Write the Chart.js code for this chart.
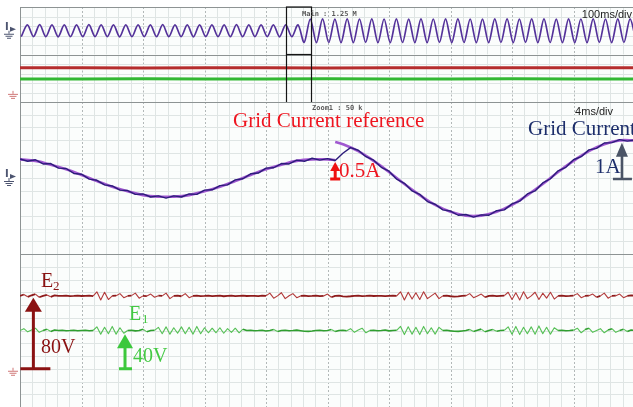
<!DOCTYPE html>
<html>
<head>
<meta charset="utf-8">
<script src="https://cdn.jsdelivr.net/npm/chart.js@4.4.0/dist/chart.umd.min.js"></script>
<style>
  html, body { margin: 0; padding: 0; background: #ffffff; overflow: hidden; }
  #wrap { position: relative; width: 640px; height: 407px; }
</style>
</head>
<body>
<div id="wrap"><canvas id="scope" width="640" height="407"></canvas></div>
<script>
// ==============================================================================
// 1. DATA
// ==============================================================================

// Main view, 100 ms/div: grid current peaks/troughs every half cycle (10 ms)
const mainStartMs = 2;
const mainStepMs = 10;
const mainCurrent = [
  -0.5, 0.5, -0.49, 0.51, -0.5, 0.5, -0.51, 0.49, -0.5, 0.5,
  -0.5, 0.51, -0.49, 0.5, -0.5, 0.49, -0.51, 0.5, -0.5, 0.5,
  -0.49, 0.5, -0.5, 0.51, -0.5, 0.5, -0.5, 0.49, -0.51, 0.5,
  -0.5, 0.5, -0.49, 0.5, -0.5, 0.51, -0.5, 0.5, -0.5, 0.49,
  -0.5, 0.5, -0.51, 0.5, -0.5, 0.5,
  -0.98, 0.99, -1, 1, -0.99, 0.98, -1, 1, -1, 0.99,
  -0.98, 1, -1, 0.99, -1, 1, -0.99, 0.98, -1, 1,
  -1, 0.99, -0.98, 1, -1, 1, -0.99, 0.99, -1, 0.98,
  -1, 1, -0.99, 1, -1, 0.99, -0.98, 1, -1, 1,
  -0.99, 0.98, -1, 1, -1, 0.99, -1, 1, -0.98, 0.99,
  -1, 1, -0.99, 1, -1
];

// Main view DC-link voltages (V), one reading per division
const mainVoltTimes = [0, 100, 200, 300, 400, 500, 600, 700, 800, 900, 1000];
const mainE2 = [80, 80.5, 79.8, 80.2, 80, 79.7, 80.3, 80, 80.2, 79.9, 80];
const mainE1 = [46, 45.8, 46.2, 46, 45.9, 46.1, 46, 45.8, 46.2, 46, 46];

// Zoom window position inside the main record (ms)
const zoomWindowMs = [432.5, 472.5];

// Zoom view, 4 ms/div: current reference before and after the step (A)
const refBeforeTimes = [0, 1, 2, 3, 4, 5, 6, 7, 8, 9, 10, 11, 12, 13, 14, 15, 16, 17, 18, 19, 20, 20.5];
const refBefore = [0.49, 0.45, 0.35, 0.23, 0.08, -0.08, -0.23, -0.35, -0.45, -0.49, -0.49,
  -0.45, -0.35, -0.23, -0.08, 0.08, 0.23, 0.35, 0.45, 0.49, 0.49, 0.47];
const refAfterTimes = [20.5, 21, 22, 23, 24, 25, 26, 27, 28, 29, 30, 31, 32, 33, 34, 35, 36, 37, 38, 39, 40];
const refAfter = [0.95, 0.89, 0.71, 0.45, 0.16, -0.16, -0.45, -0.71, -0.89, -0.99, -0.99,
  -0.89, -0.71, -0.45, -0.16, 0.16, 0.45, 0.71, 0.89, 0.99, 0.99];

// Zoom view measured grid current, sampled every 0.5 ms (A)
const zoomStepMs = 0.5;
const zoomCurrent = [
  0.50, 0.44, 0.48, 0.37, 0.38, 0.26, 0.25, 0.12, 0.10, -0.03,
  -0.06, -0.18, -0.21, -0.32, -0.33, -0.43, -0.42, -0.50, -0.47, -0.53,
  -0.47, -0.50, -0.42, -0.43, -0.32, -0.31, -0.20, -0.18, -0.05, -0.02,
  0.11, 0.13, 0.26, 0.27, 0.38, 0.37, 0.47, 0.44, 0.52, 0.47,
  0.51, 0.46, 0.65, 0.80, 0.73, 0.56, 0.47, 0.28, 0.18, -0.03,
  -0.14, -0.34, -0.43, -0.62, -0.69, -0.84, -0.87, -0.98, -0.96, -1.03,
  -0.97, -0.98, -0.86, -0.84, -0.68, -0.61, -0.42, -0.34, -0.13, -0.02,
  0.19, 0.28, 0.48, 0.56, 0.74, 0.78, 0.92, 0.93, 1.01, 0.97,
  1.00
];

// Zoom view voltages, sampled every 0.25 ms (V)
const voltStepMs = 0.25;
const zoomE2 = [
  80, 81.5, 79, 80.5, 82, 78.5, 80, 81, 79, 80.5, 80,
  80, 80.2, 79.8, 80, 80.3, 79.9, 80, 80.2, 79.8,
  84.5, 75.5, 84, 76,
  80, 80.2,
  82.5, 78, 80, 80.3, 83, 77.5, 80, 79.8, 82, 78.5, 80.2, 80, 83, 77, 80, 80.4, 79.6, 82.5, 78, 80, 80.2, 79.8,
  80, 80.3, 79.7, 80, 80.2, 79.6, 80, 80.4, 79.8, 80, 80.2, 79.9, 80.1, 80, 79.7, 80.3, 80,
  83, 77.5, 80, 83.5, 77, 80.2, 82.5, 78, 80,
  80.2, 79.8, 80, 80.3, 79.7, 80, 82, 78.5, 80, 80.2, 79.5, 79.3, 79.6, 80, 80.2, 79.8, 80, 80.3, 79.9, 80, 80.1, 79.8, 80, 80.2, 80,
  84.5, 75.5, 84, 76.5, 83.5, 76, 84.5, 77, 80, 83, 77, 80,
  80.2, 79.6, 79.3, 79.5, 80, 80.2,
  82.5, 78, 80, 82, 78.5, 80,
  80.2, 79.8, 80, 80.2,
  84, 76, 83.5, 75.5, 84.5, 77, 80, 84, 76, 83, 77.5, 84, 76.5, 80,
  80.2, 79.8, 80, 80.3,
  82.5, 78, 80, 80.2, 82, 78.5, 80, 83, 77.5, 80, 80.2, 82, 78, 80, 80.5, 80.3
];
const zoomE1 = [
  42, 44, 40.5, 42.5, 44.5, 40, 42, 43.5, 41, 42.5, 42,
  42.2, 41.8, 42, 42.3, 41.7, 42, 42.2, 41.8, 42,
  46, 38, 45.5, 38.5, 46.5, 38, 45, 39,
  42, 42.3, 41.6, 42, 43.5, 40.5, 42, 42.2,
  45.5, 38.5, 46, 38, 45, 39, 46, 38.5, 45.5, 38, 46.5, 38.5, 45, 39.5, 44.5, 39.5, 45, 39, 44, 40, 44.5, 39.5, 43.5, 42,
  42.2, 41.8, 42, 42.3, 41.5, 42, 43, 41, 42, 42.2, 41.7, 42, 42.4, 41.8, 41.2, 41, 41.4, 42, 42.3, 41.8, 42, 43.2, 40.8, 42, 42.2, 41.8,
  44, 40, 42.5, 44.5, 39.5, 42,
  42.2, 41.8, 42, 42.5, 41.6, 42, 42.2,
  46.5, 37.5, 46, 38, 45.5, 37.5, 46.5, 38.5, 45, 38, 45.5, 42,
  42.2, 41.6, 41.2, 41, 41.5, 42, 43, 41, 42.2, 43.5, 40.5, 42, 43, 41.2, 42, 42.2,
  46, 38, 46.5, 37.5, 45.5, 38.5, 46, 38, 47, 38.5, 45.5, 38, 45, 42,
  42.3, 41.8, 42, 42.4,
  44.5, 39.5, 43, 44.5, 40, 42, 44, 39.5, 42.5, 44, 40, 42, 43.5, 41, 42.5, 42
];

// Level markers (arrows) in the zoom view
const stepMarkA = { t: 20.5, from: 0, to: 0.42 };
const peakMarkA = { t: 39.15, from: 0, to: 0.93 };
const e2MarkV = { t: 0.87, from: 0, to: 78 };
const e1MarkV = { t: 6.83, from: 0, to: 38 };

// ==============================================================================
// 2. HELPERS
// ==============================================================================
function sampled(values, start, step) {
  return values.map((v, i) => ({ x: start + i * step, y: v }));
}
function paired(times, values) {
  return times.map((t, i) => ({ x: t, y: values[i] }));
}
function line(ctx, x0, y0, x1, y1) {
  ctx.beginPath(); ctx.moveTo(x0, y0); ctx.lineTo(x1, y1); ctx.stroke();
}
// slightly thinner, lighter strokes for the noise spikes
function spikeStyle(base, spike, baseW, spikeW) {
  const isSpike = c => Math.abs(c.p1.parsed.y - c.p0.parsed.y) > 1.6;
  return {
    borderColor: c => (isSpike(c) ? spike : base),
    borderWidth: c => (isSpike(c) ? spikeW : baseW)
  };
}

// panels: x axis, y axis, rows of grid, minor/major x step
const panels = [
  { x: 'xMain', y: 'yMainI', rows: 5, minor: 20, major: 100 },
  { x: 'xMain', y: 'yMainV', rows: 5, minor: 20, major: 100 },
  { x: 'xZoom', y: 'yZoomI', rows: 12, minor: 0.8, major: 4 },
  { x: 'xZoom', y: 'yZoomV', rows: 12, minor: 0.8, major: 4 }
];

function drawPanelGrid(ctx, xs, ys, p) {
  const top = ys.top, bottom = ys.bottom, left = xs.left, right = xs.right;
  ctx.save();
  ctx.beginPath(); ctx.rect(left, top, right - left, bottom - top); ctx.clip();
  ctx.lineWidth = 1;
  const n = Math.round((xs.max - xs.min) / p.minor);
  const perMajor = Math.round(p.major / p.minor);
  for (let i = 0; i <= n; i++) {
    const x = Math.round(xs.getPixelForValue(xs.min + i * p.minor)) + 0.5;
    if (i % perMajor === 0) {
      ctx.strokeStyle = '#b2b8b8'; ctx.setLineDash([2, 2]);
    } else {
      ctx.strokeStyle = '#dfe5e4'; ctx.setLineDash([]);
    }
    line(ctx, x, top, x, bottom);
  }
  ctx.setLineDash([]);
  ctx.strokeStyle = '#dfe5e4';
  const rowH = (bottom - top) / p.rows;
  for (let r = 1; r < p.rows; r++) {
    const y = Math.round(top + r * rowH) + 0.5;
    line(ctx, left, y, right, y);
  }
  ctx.restore();
}

function arrowUp(ctx, x, yBase, yTip, color, o) {
  ctx.save();
  ctx.strokeStyle = color; ctx.fillStyle = color; ctx.lineWidth = o.lw;
  line(ctx, x, yBase, x, yTip + o.headH - 1);
  ctx.beginPath();
  ctx.moveTo(x - o.headW / 2, yTip + o.headH);
  ctx.lineTo(x + o.headW / 2, yTip + o.headH);
  ctx.lineTo(x, yTip);
  ctx.closePath(); ctx.fill();
  line(ctx, x - o.baseL, yBase, x + o.baseR, yBase);
  ctx.restore();
}

function groundMark(ctx, x, y, color) {
  ctx.save();
  ctx.strokeStyle = color; ctx.lineWidth = 1;
  line(ctx, x, y - 3, x, y);
  line(ctx, x - 5, y + 0.5, x + 5, y + 0.5);
  line(ctx, x - 3.5, y + 2.5, x + 3.5, y + 2.5);
  line(ctx, x - 2, y + 4.5, x + 2, y + 4.5);
  ctx.restore();
}

function traceMark(ctx, x, y, color) {
  // "I" label with zero-level pointer and ground sign
  ctx.save();
  ctx.fillStyle = color;
  ctx.font = 'bold 10px "DejaVu Sans"';
  ctx.textAlign = 'left'; ctx.textBaseline = 'alphabetic';
  ctx.fillText('I', x - 4, y - 1);
  ctx.beginPath();
  ctx.moveTo(x + 1, y - 4); ctx.lineTo(x + 7, y - 1.5); ctx.lineTo(x + 1, y + 1);
  ctx.closePath(); ctx.fill();
  ctx.restore();
  groundMark(ctx, x, y + 3, color);
}

// ==============================================================================
// 3. PLUGINS (scope grid + annotations)
// ==============================================================================
const scopeGrid = {
  id: 'scopeGrid',
  beforeDatasetsDraw(chart) {
    const { ctx, chartArea, scales } = chart;
    ctx.save();
    ctx.fillStyle = '#fbfdfc';
    ctx.fillRect(chartArea.left, chartArea.top, chartArea.right - chartArea.left, chartArea.bottom - chartArea.top);
    panels.forEach(p => drawPanelGrid(ctx, scales[p.x], scales[p.y], p));
    ctx.strokeStyle = '#8d9393'; ctx.lineWidth = 1;
    panels.forEach(p => {
      const y = Math.round(scales[p.y].top) + 0.5;
      line(ctx, chartArea.left, y, chartArea.right, y);
    });
    line(ctx, chartArea.left + 0.5, chartArea.top, chartArea.left + 0.5, chartArea.bottom);
    ctx.restore();
  }
};

const scopeMarks = {
  id: 'scopeMarks',
  afterDatasetsDraw(chart) {
    const { ctx, scales } = chart;
    const xm = scales.xMain, xz = scales.xZoom;
    const yMI = scales.yMainI, yMV = scales.yMainV, yZI = scales.yZoomI, yZV = scales.yZoomV;
    ctx.save();

    // zoom window box in the main view
    const bx0 = Math.round(xm.getPixelForValue(zoomWindowMs[0])) + 0.5;
    const bx1 = Math.round(xm.getPixelForValue(zoomWindowMs[1])) + 0.5;
    ctx.strokeStyle = '#151515'; ctx.lineWidth = 1.2;
    ctx.strokeRect(bx0, yMI.top, bx1 - bx0, yMI.bottom - yMI.top);
    line(ctx, bx0, yMI.bottom, bx0, yMV.bottom);
    line(ctx, bx1, yMI.bottom, bx1, yMV.bottom);

    // trace zero markers
    traceMark(ctx, 9, yMI.getPixelForValue(0), '#4d5570');
    traceMark(ctx, 9, yZI.getPixelForValue(0), '#4d5570');
    groundMark(ctx, 13, yMV.getPixelForValue(0), '#d07878');
    groundMark(ctx, 13, yZV.getPixelForValue(0) + 2, '#d07878');

    // scope status texts
    ctx.textBaseline = 'alphabetic';
    ctx.fillStyle = '#5a5a5a';
    ctx.font = 'bold 7px "DejaVu Sans Mono"';
    ctx.textAlign = 'left';
    ctx.fillText('Main : 1.25 M', 302, 16);
    ctx.fillText('Zoom1 : 50 k', 312, 110);
    ctx.fillStyle = '#222';
    ctx.font = '11px "Liberation Sans"';
    ctx.textAlign = 'right';
    ctx.fillText('100ms/div', 632, 18);
    ctx.fillText('4ms/div', 613, 115);

    // current annotations
    ctx.textAlign = 'left';
    ctx.font = '21px "Liberation Serif"';
    ctx.fillStyle = '#ee1620';
    ctx.fillText('Grid Current reference', 233, 127);
    ctx.fillText('0.5A', 339, 177);
    ctx.fillStyle = '#1d2e6b';
    ctx.fillText('Grid Current', 528, 135);
    ctx.fillText('1A', 595, 173);

    arrowUp(ctx, xz.getPixelForValue(stepMarkA.t), yZI.getPixelForValue(stepMarkA.from) + 1,
      yZI.getPixelForValue(stepMarkA.to), '#ee1010', { lw: 3, headW: 10, headH: 9, baseL: 5, baseR: 5 });
    arrowUp(ctx, xz.getPixelForValue(peakMarkA.t), yZI.getPixelForValue(peakMarkA.from) + 1,
      yZI.getPixelForValue(peakMarkA.to), '#4a5466', { lw: 2.5, headW: 12, headH: 14, baseL: 9, baseR: 10 });

    // voltage annotations
    arrowUp(ctx, xz.getPixelForValue(e2MarkV.t), yZV.getPixelForValue(e2MarkV.from),
      yZV.getPixelForValue(e2MarkV.to), '#8a1212', { lw: 3, headW: 17, headH: 14, baseL: 13, baseR: 17 });
    arrowUp(ctx, xz.getPixelForValue(e1MarkV.t), yZV.getPixelForValue(e1MarkV.from),
      yZV.getPixelForValue(e1MarkV.to), '#3cc83c', { lw: 3, headW: 16, headH: 14, baseL: 6, baseR: 7 });

    ctx.font = '20px "Liberation Serif"';
    ctx.fillStyle = '#8a1212';
    ctx.fillText('E', 41, 287);
    ctx.fillText('80V', 41, 353);
    ctx.font = '13px "Liberation Serif"';
    ctx.fillText('2', 53, 290);
    ctx.font = '20px "Liberation Serif"';
    ctx.fillStyle = '#44c944';
    ctx.fillText('E', 129, 320);
    ctx.fillText('40V', 133, 362);
    ctx.font = '13px "Liberation Serif"';
    ctx.fillText('1', 142, 323);

    ctx.restore();
  }
};

// ==============================================================================
// 4. CHART (dataset 0 is drawn on top)
// ==============================================================================
const hidden = { display: false };

new Chart(document.getElementById('scope'), {
  type: 'line',
  data: {
    datasets: [
      { label: 'Grid current (main)', xAxisID: 'xMain', yAxisID: 'yMainI',
        data: sampled(mainCurrent, mainStartMs, mainStepMs),
        borderColor: '#54329a', borderWidth: 1.7, tension: 0.3 },
      { label: 'E2 (main)', xAxisID: 'xMain', yAxisID: 'yMainV',
        data: paired(mainVoltTimes, mainE2), borderColor: '#b52d2d', borderWidth: 3 },
      { label: 'E1 (main)', xAxisID: 'xMain', yAxisID: 'yMainV',
        data: paired(mainVoltTimes, mainE1), borderColor: '#33b833', borderWidth: 3 },
      { label: 'Grid current (zoom)', xAxisID: 'xZoom', yAxisID: 'yZoomI',
        data: sampled(zoomCurrent, 0, zoomStepMs), borderColor: '#2c1c7a', borderWidth: 1.4 },
      { label: 'Reference (before step)', xAxisID: 'xZoom', yAxisID: 'yZoomI',
        data: paired(refBeforeTimes, refBefore), borderColor: '#a058d0', borderWidth: 2.6, tension: 0.4 },
      { label: 'Reference (after step)', xAxisID: 'xZoom', yAxisID: 'yZoomI',
        data: paired(refAfterTimes, refAfter), borderColor: '#a058d0', borderWidth: 2.6, tension: 0.4 },
      { label: 'E2 (zoom)', xAxisID: 'xZoom', yAxisID: 'yZoomV',
        data: sampled(zoomE2, 0, voltStepMs), borderColor: '#8e1a1a', borderWidth: 1.8,
        segment: spikeStyle('#8e1a1a', '#b23a3a', 1.8, 1.1) },
      { label: 'E1 (zoom)', xAxisID: 'xZoom', yAxisID: 'yZoomV',
        data: sampled(zoomE1, 0, voltStepMs), borderColor: '#2f9e2f', borderWidth: 1.6,
        segment: spikeStyle('#2f9e2f', '#55c055', 1.6, 1.1) }
    ]
  },
  options: {
    responsive: false,
    animation: false,
    devicePixelRatio: 1,
    layout: { padding: { left: 20, top: 7, right: 5, bottom: 0 } },
    elements: { point: { radius: 0 }, line: { borderJoinStyle: 'round' } },
    plugins: { legend: hidden, tooltip: { enabled: false } },
    scales: {
      xMain: { type: 'linear', position: 'bottom', min: 0, max: 1000, display: false },
      xZoom: { type: 'linear', position: 'bottom', min: 0, max: 40, display: false },
      yMainI: { type: 'linear', position: 'left', min: -2, max: 2, display: false,
        stack: 'scope', stackWeight: 47.5, weight: 4 },
      yMainV: { type: 'linear', position: 'left', min: -25, max: 121, display: false,
        stack: 'scope', stackWeight: 47.5, weight: 3 },
      yZoomI: { type: 'linear', position: 'left', min: -2, max: 2, display: false,
        stack: 'scope', stackWeight: 152, weight: 2 },
      yZoomV: { type: 'linear', position: 'left', min: -42, max: 126, display: false,
        stack: 'scope', stackWeight: 153, weight: 1 }
    }
  },
  plugins: [scopeGrid, scopeMarks]
});
</script>
</body>
</html>
